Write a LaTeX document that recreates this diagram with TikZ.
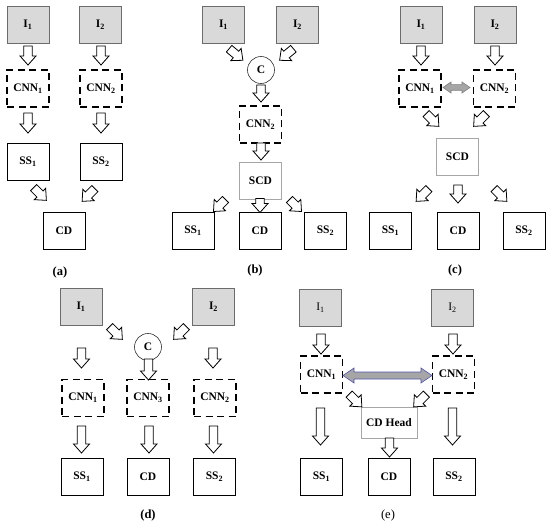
\documentclass[tikz,border=0pt]{standalone}
\usepackage{fontspec}
\setmainfont{Liberation Serif}
\begin{document}
\begin{tikzpicture}[x=1pt,y=-1pt,
  every node/.style={font=\fontsize{11.5}{13}\selectfont\bfseries, inner sep=0pt},
  box/.style={draw=black, line width=0.8pt, minimum width=42pt, minimum height=37pt},
  inbox/.style={box, draw=gray!85!black, fill=gray!30, line width=0.7pt},
  dbox/.style={box, dashed, dash pattern=on 7pt off 4.5pt, line width=1.3pt},
  thinbox/.style={box, draw=gray!70, line width=0.6pt},
  cat/.style={circle, draw=black!80, line width=0.6pt, minimum size=27pt},
  lbl/.style={font=\fontsize{12.5}{14}\selectfont\bfseries},
  arr/.style={draw=black, fill=white, line width=0.8pt, line join=miter},
  pics/barrow/.style={code={
    \draw[arr] ({-#1/2},-4.3) -- ({#1/2-9},-4.3) -- ({#1/2-9},-8) -- ({#1/2},0)
      -- ({#1/2-9},8) -- ({#1/2-9},4.3) -- ({-#1/2},4.3) -- cycle;}},
  pics/dbarrow/.style n args={5}{code={
    \draw[draw=#5, fill=gray!70, line width=0.6pt, line join=miter]
      ({-#1/2},0) -- ({-#1/2+#4},{-#3}) -- ({-#1/2+#4},{-#2}) -- ({#1/2-#4},{-#2})
      -- ({#1/2-#4},{-#3}) -- ({#1/2},0) -- ({#1/2-#4},{#3}) -- ({#1/2-#4},{#2})
      -- ({-#1/2+#4},{#2}) -- ({-#1/2+#4},{#3}) -- cycle;}},
]
\useasboundingbox (0,0) rectangle (550,527);

% ---------- (a)
\node[inbox] (aI1) at (28,24.5) {I\textsubscript{1}};
\node[inbox] (aI2) at (100.5,24.5) {I\textsubscript{2}};
\node[dbox] (aN1) at (28,88.5) {CNN\textsubscript{1}};
\node[dbox] (aN2) at (101,88.5) {CNN\textsubscript{2}};
\node[box] (aS1) at (28,161.5) {SS\textsubscript{1}};
\node[box] (aS2) at (101,161.5) {SS\textsubscript{2}};
\node[box] (aCD) at (64,230.5) {CD};
\pic[rotate=-90] at (28,55.5) {barrow=19};
\pic[rotate=-90] at (101,55.5) {barrow=19};
\pic[rotate=-90] at (28,123) {barrow=20};
\pic[rotate=-90] at (101,123) {barrow=20};
\pic[rotate=-45] at (40,194) {barrow=18};
\pic[rotate=-135] at (88.5,195) {barrow=18};
\node[lbl] (la) at (60,272) {(a)};

% ---------- (b)
\node[inbox] (bI1) at (223.5,24.5) {I\textsubscript{1}};
\node[inbox] (bI2) at (297.5,24.5) {I\textsubscript{2}};
\node[cat] (bC) at (261,70) {C};
\node[dbox] (bN2) at (260.5,124.5) {CNN\textsubscript{2}};
\node[thinbox] (bSCD) at (260.5,180.5) {SCD};
\node[box] (bS1) at (193,231) {SS\textsubscript{1}};
\node[box] (bCD) at (260,231) {CD};
\node[box] (bS2) at (325.5,231) {SS\textsubscript{2}};
\pic[rotate=-40] at (236,54.5) {barrow=18};
\pic[rotate=-140] at (286.5,54.5) {barrow=18};
\pic[rotate=-90] at (261,93.5) {barrow=17};
\pic[rotate=-90] at (261,151.5) {barrow=17};
\pic[rotate=-90] at (260,205.5) {barrow=14};
\pic[rotate=-135] at (219.5,205.5) {barrow=17};
\pic[rotate=-45] at (295.5,205.5) {barrow=17};
\node[lbl] (lb) at (255,270) {(b)};

% ---------- (c)
\node[inbox] (cI1) at (421,24.5) {I\textsubscript{1}};
\node[inbox] (cI2) at (495,24.5) {I\textsubscript{2}};
\node[dbox] (cN1) at (420,88.5) {CNN\textsubscript{1}};
\node[dbox] (cN2) at (494.5,88.5) {CNN\textsubscript{2}};
\node[thinbox] (cSCD) at (457.5,156.5) {SCD};
\node[box] (cS1) at (390.5,230.5) {SS\textsubscript{1}};
\node[box] (cCD) at (458,230.5) {CD};
\node[box] (cS2) at (524,230.5) {SS\textsubscript{2}};
\pic[rotate=-90] at (421,55.5) {barrow=19};
\pic[rotate=-90] at (495,55.5) {barrow=19};
\pic at (456.5,87.5) {dbarrow={27}{2.8}{5.5}{8}{gray}};
\pic[rotate=-45] at (432.5,120) {barrow=18};
\pic[rotate=-135] at (480,120) {barrow=18};
\pic[rotate=-135] at (422.5,195) {barrow=18};
\pic[rotate=-90] at (458,194) {barrow=18};
\pic[rotate=-45] at (500.5,195) {barrow=18};
\node[lbl] (lc) at (455,270) {(c)};

% ---------- (d)
\node[inbox] (dI1) at (81,307) {I\textsubscript{1}};
\node[inbox] (dI2) at (213.5,307) {I\textsubscript{2}};
\node[cat] (dC) at (148,347) {C};
\node[dbox] (dN1) at (83,398) {CNN\textsubscript{1}};
\node[dbox] (dN3) at (148,398) {CNN\textsubscript{3}};
\node[dbox] (dN2) at (215,398) {CNN\textsubscript{2}};
\node[box] (dS1) at (82,476.5) {SS\textsubscript{1}};
\node[box] (dCD) at (148,476.5) {CD};
\node[box] (dS2) at (214.5,476.5) {SS\textsubscript{2}};
\pic[rotate=-45] at (116,333) {barrow=18};
\pic[rotate=-135] at (180,333) {barrow=18};
\pic[rotate=-90] at (81.5,358) {barrow=20};
\pic[rotate=-90] at (213,358) {barrow=20};
\pic[rotate=-90] at (148.5,369.5) {barrow=21};
\pic[rotate=-90] at (81.5,439.5) {barrow=27};
\pic[rotate=-90] at (149,439.5) {barrow=27};
\pic[rotate=-90] at (213.5,439.5) {barrow=27};
\node[lbl] (ld) at (148,515) {(d)};

% ---------- (e)
\node[inbox, font=\fontsize{11.5}{13}\selectfont\mdseries] (eI1) at (320.5,307.5) {I\textsubscript{1}};
\node[inbox, font=\fontsize{11.5}{13}\selectfont\mdseries] (eI2) at (452.5,307.5) {I\textsubscript{2}};
\node[dbox] (eN1) at (321.5,374.5) {CNN\textsubscript{1}};
\node[dbox] (eN2) at (453.5,374.5) {CNN\textsubscript{2}};
\node[thinbox, minimum width=56pt, minimum height=31pt] (eH) at (389,422.5) {CD Head};
\node[box] (eS1) at (321.5,476.5) {SS\textsubscript{1}};
\node[box] (eCD) at (389,476.5) {CD};
\node[box] (eS2) at (454,476.5) {SS\textsubscript{2}};
\pic[rotate=-90] at (321,344) {barrow=20};
\pic[rotate=-90] at (453,344) {barrow=20};
\pic at (387.5,375.5) {dbarrow={89}{3.5}{7.5}{11}{blue!35!gray}};
\pic[rotate=-45] at (355.5,400.5) {barrow=18};
\pic[rotate=-135] at (420,400.5) {barrow=18};
\pic[rotate=-90] at (389.5,447.5) {barrow=19};
\pic[rotate=-90] at (320.5,426.5) {barrow=37};
\pic[rotate=-90] at (452.5,426.5) {barrow=37};
\node[lbl, font=\fontsize{12.5}{14}\selectfont\mdseries] (le) at (388,515) {(e)};
\end{tikzpicture}
\end{document}
